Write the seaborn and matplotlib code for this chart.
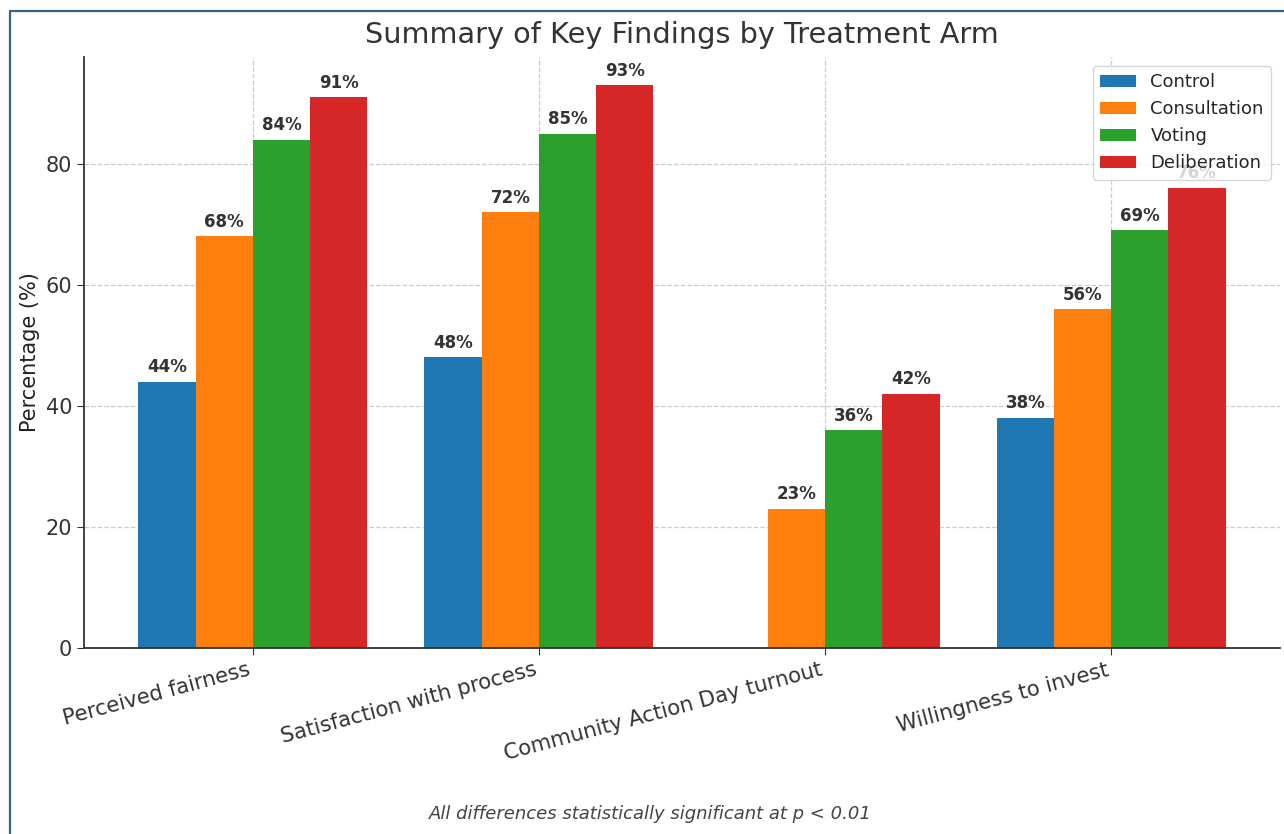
import numpy as np
import pandas as pd
import matplotlib
matplotlib.use("Agg")
import matplotlib.pyplot as plt
from matplotlib.lines import Line2D
import seaborn as sns

# Outcome measures and treatment arms
categories = [
    "Perceived fairness",
    "Satisfaction with process",
    "Community Action Day turnout",
    "Willingness to invest",
]
arms = ["Control", "Consultation", "Voting", "Deliberation"]

control = [44, 48, np.nan, 38]
consultation = [68, 72, 23, 56]
voting = [84, 85, 36, 69]
deliberation = [91, 93, 42, 76]

colors = ["#1f77b4", "#ff7f0e", "#2ca02c", "#d62728"]

rows = []
for arm, vals in zip(arms, [control, consultation, voting, deliberation]):
    for cat, v in zip(categories, vals):
        rows.append({"Outcome": cat, "Arm": arm, "Percentage": v})
df = pd.DataFrame(rows)

sns.set_style("ticks")
plt.rcParams["font.family"] = ["DejaVu Sans"]

fig = plt.figure(figsize=(12.84, 8.34), dpi=100)
ax = fig.add_axes([0.0654, 0.223, 0.9315, 0.7087])

sns.barplot(
    data=df, x="Outcome", y="Percentage", hue="Arm",
    order=categories, hue_order=arms, palette=colors,
    saturation=1, width=0.8, errorbar=None, linewidth=0, ax=ax,
)

for cont in ax.containers:
    ax.bar_label(cont, fmt="{:.0f}%", padding=4, fontsize=12,
                 fontweight="bold", color="#333333")

vmax = np.nanmax(deliberation)
ax.set_ylim(0, vmax * 1.05)
ax.set_xlim(-0.59, len(categories) - 1 + 0.59)
ax.set_yticks([0, 20, 40, 60, 80])
ax.tick_params(axis="y", labelsize=15, colors="#333333", length=5)
ax.tick_params(axis="x", labelsize=15.3, colors="#333333", length=5)
for lbl in ax.get_xticklabels():
    lbl.set_rotation(15)
    lbl.set_ha("right")

ax.grid(True, linestyle="--", color="#cccccc", linewidth=0.9)
ax.set_axisbelow(True)
sns.despine(ax=ax)
for side in ["left", "bottom"]:
    ax.spines[side].set_color("#333333")
    ax.spines[side].set_linewidth(1.3)

ax.set_xlabel("")
ax.set_ylabel("Percentage (%)", fontsize=15, color="#222222")
ax.set_title("Summary of Key Findings by Treatment Arm", fontsize=20.7,
             color="#333333", pad=10)

sns.move_legend(ax, "upper right", title=None, fontsize=13, frameon=True)

fig.text(650 / 1284, 1 - 814 / 834,
         "All differences statistically significant at p < 0.01",
         ha="center", va="center", fontsize=13, style="italic",
         color="#444444")

# Teal frame around the figure panel
frame_color = "#2e6b75"
fig.add_artist(Line2D([10.5 / 1284, 10.5 / 1284], [0, 1 - 10.5 / 834],
                      transform=fig.transFigure, color=frame_color, lw=1.6))
fig.add_artist(Line2D([10.5 / 1284, 1], [1 - 10.5 / 834, 1 - 10.5 / 834],
                      transform=fig.transFigure, color=frame_color, lw=1.6))

fig.savefig("out.png", dpi=100)
